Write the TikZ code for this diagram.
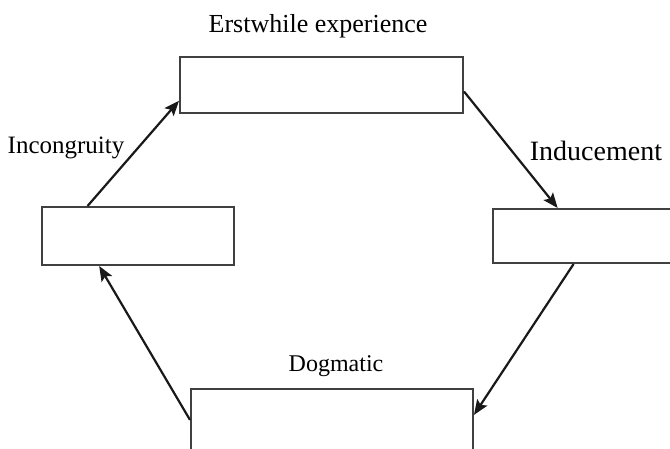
\documentclass[tikz,border=0pt]{standalone}
\usepackage{fontspec}
\setmainfont{Liberation Serif}
\usetikzlibrary{arrows.meta,calc}
\begin{document}
\begin{tikzpicture}[x=1pt,y=-1pt,
  box/.style={draw=black!75,line width=2pt,fill=white,inner sep=0pt},
  conn/.style={draw=black!90,line width=2.2pt,-{Stealth[length=15pt,width=12pt,inset=3pt]}},
  lbl/.style={font=\fontsize{24}{28}\selectfont,inner sep=0pt}]
\clip (0,0) rectangle (670,448);
\useasboundingbox (0,0) rectangle (670,448);
\fill[white] (0,0) rectangle (670,448);
\node[box,minimum width=283pt,minimum height=56pt] (top) at (321.5,84.5) {};
\node[box,minimum width=192pt,minimum height=58pt] (left) at (138,236) {};
\node[box,minimum width=197pt,minimum height=54pt] (right) at (591.5,236) {};
\node[box,minimum width=282pt,minimum height=82pt] (bottom) at (332,430) {};
\node[lbl,font=\fontsize{26}{30}\selectfont] (t1) at (318,26) {Erstwhile experience};
\node[lbl,font=\fontsize{25}{30}\selectfont] (t2) at (66,148) {Incongruity};
\node[lbl,font=\fontsize{28}{32}\selectfont] (t3) at (596,151) {Inducement};
\node[lbl,font=\fontsize{24}{28}\selectfont] (t4) at (336,366) {Dogmatic};
\draw[conn] ($(left.north west)!0.24!(left.north east)$) -- ($(top.north west)!0.78!(top.south west)$);
\draw[conn] ($(top.north east)!0.62!(top.south east)$) -- ($(right.north west)!0.33!(right.north east)$);
\draw[conn] ($(right.south west)!0.41!(right.south east)$) -- ($(bottom.north east)!0.32!(bottom.south east)$);
\draw[conn] ($(bottom.north west)!0.38!(bottom.south west)$) -- ($(left.south west)!0.30!(left.south east)$);
\end{tikzpicture}
\end{document}
